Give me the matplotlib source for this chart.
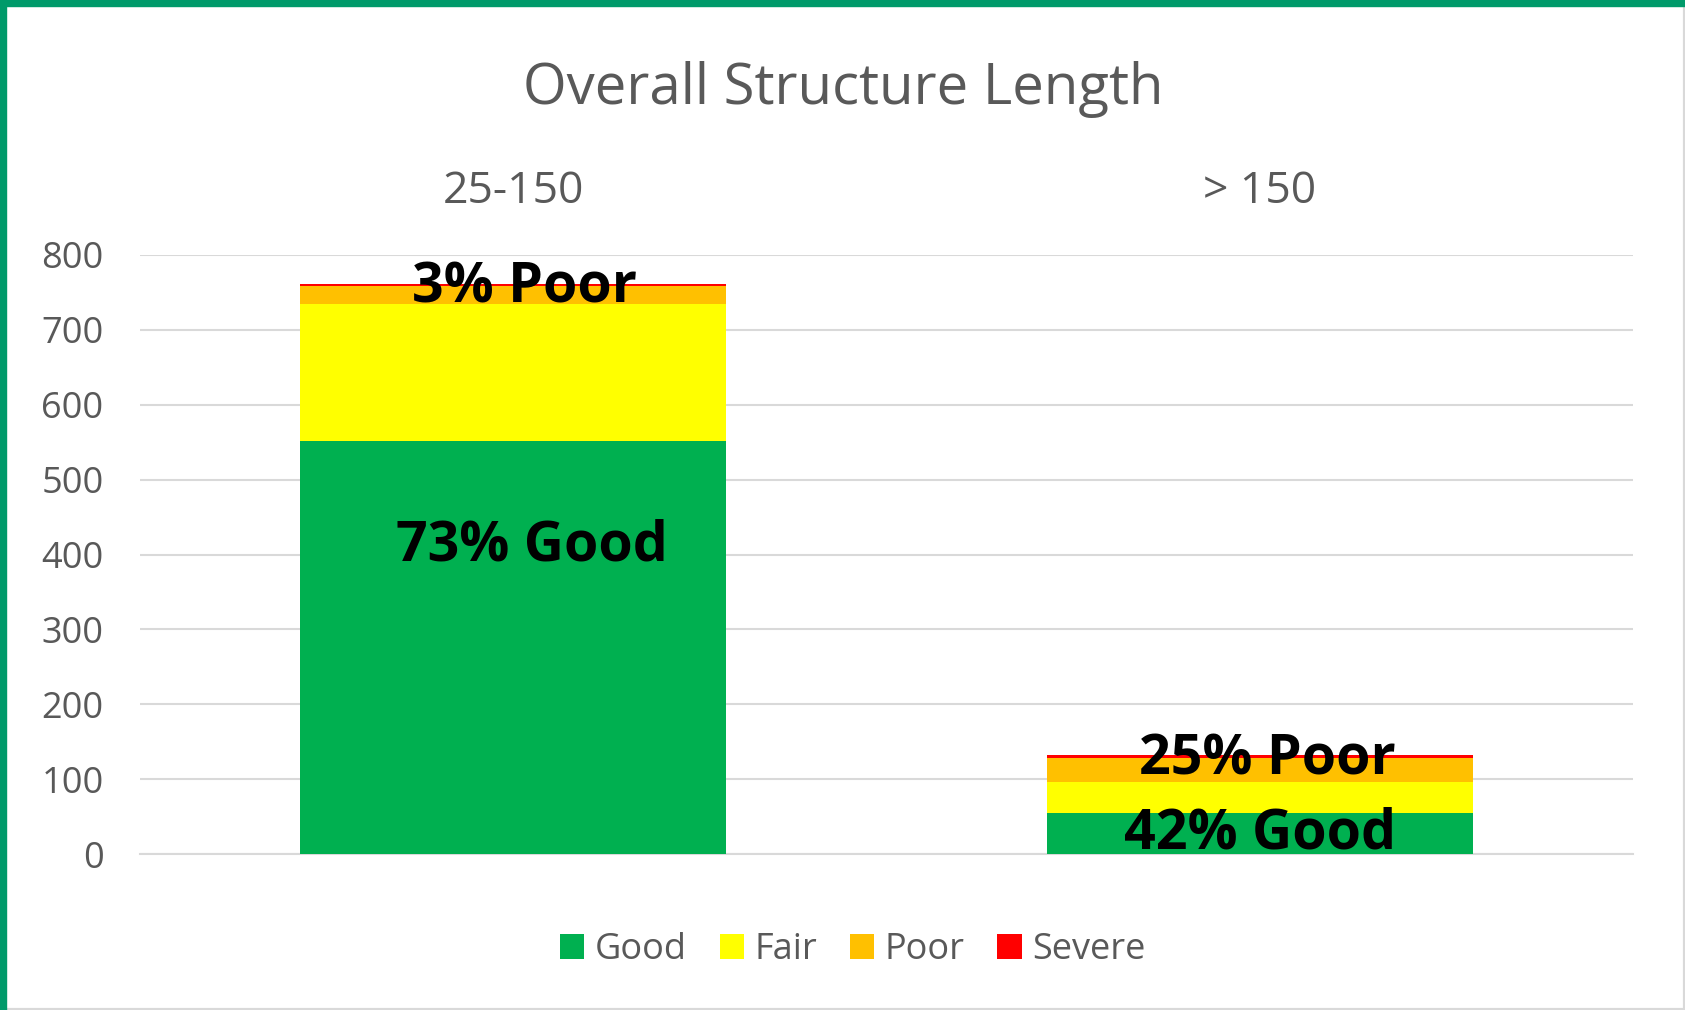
import matplotlib
matplotlib.use("Agg")
import matplotlib.pyplot as plt
from matplotlib.patches import Rectangle
import numpy as np

plt.rcParams['font.family'] = ['Open Sans', 'DejaVu Sans']

categories = ["25-150", "> 150"]
series_names = ["Good", "Fair", "Poor", "Severe"]
good = [552, 55]
fair = [182, 41]
poor = [24, 33]
severe = [3, 3]
colors = ["#00B050", "#FFFF00", "#FFC000", "#FF0000"]
yticks = [0, 100, 200, 300, 400, 500, 600, 700, 800]

W, H = 1685, 1010
fig = plt.figure(figsize=(W / 100, H / 100), dpi=100)
ax = fig.add_axes([139.7 / W, 1 - 854.3 / H, 1493.7 / W, 599.6 / H])

x = np.arange(len(categories))
bottom = np.zeros(len(categories))
for name, vals, c in zip(series_names, [good, fair, poor, severe], colors):
    ax.bar(x, vals, width=0.57, bottom=bottom, color=c, label=name, zorder=3, linewidth=0)
    bottom += np.array(vals)
totals = bottom

ax.set_xlim(-0.5, 1.5)
ax.set_ylim(0, 800)
ax.set_yticks(yticks)
ax.set_yticklabels([str(v) for v in yticks])
ax.grid(axis='y', color='#D9D9D9', linewidth=1.5, zorder=0)
for s in ['left', 'right', 'top']:
    ax.spines[s].set_visible(False)
ax.spines['bottom'].set_color('#D9D9D9')
ax.spines['bottom'].set_linewidth(1.5)
ax.xaxis.tick_top()
ax.set_xticks(x)
ax.set_xticklabels(categories)
ax.tick_params(axis='x', length=0, pad=29, labelsize=32, labelcolor='#595959')
ax.tick_params(axis='y', length=0, pad=26, labelsize=26, labelcolor='#595959')

# data labels (percent of bar total)
good_pct = [round(100 * g / t) for g, t in zip(good, totals)]
poor_pct = [round(100 * p / t) for p, t in zip(poor, totals)]
label_font = dict(fontsize=40, fontweight='bold', color='black', ha='center', va='center', zorder=5)
ax.text(0.025, 411, f"{good_pct[0]}% Good", **label_font)
ax.text(0.015, 756, f"{poor_pct[0]}% Poor", **label_font)
ax.text(1.01, 126, f"{poor_pct[1]}% Poor", **label_font)
ax.text(1.0, 27, f"{good_pct[1]}% Good", **label_font)

fig.text(843 / W, 1 - 90 / H, "Overall Structure Length", fontsize=40.5, color='#595959',
         ha='center', va='center')

leg = fig.legend(loc='center', bbox_to_anchor=(853 / W, 1 - 950 / H), ncol=4, frameon=False,
                 fontsize=26, handlelength=0.67, handleheight=0.67, handletextpad=0.3,
                 columnspacing=0.9, labelcolor='#595959')

# frame
fig.patches.append(Rectangle((0, 0), 1, 1, transform=fig.transFigure, fill=False,
                             edgecolor='#D9D9D9', linewidth=3, zorder=10))
fig.patches.append(Rectangle((0, 0), 6 / W, 1, transform=fig.transFigure,
                             color='#009A6A', zorder=11))
fig.patches.append(Rectangle((0, 1 - 6 / H), 1, 6 / H, transform=fig.transFigure,
                             color='#009A6A', zorder=11))

fig.savefig("out.png", dpi=100)
